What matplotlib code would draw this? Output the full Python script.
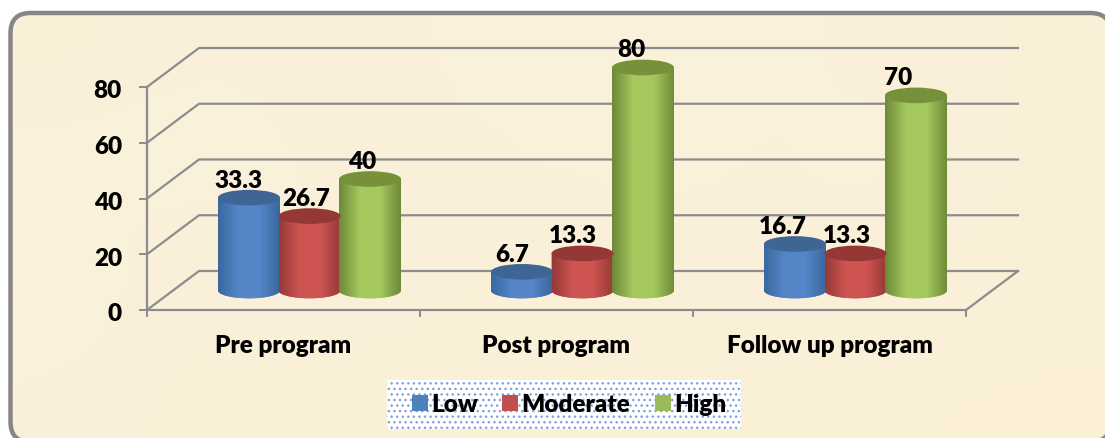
"""
Grouped cylinder chart of low, moderate and high levels per program stage.
"""
import matplotlib
matplotlib.use("Agg")
import matplotlib.pyplot as plt
import numpy as np
from matplotlib.patches import Ellipse, FancyBboxPatch, Patch, Polygon, Rectangle
from matplotlib.transforms import ScaledTranslation

WIDTH, HEIGHT = 1105, 439
DPI = 100

categories = ["Pre program", "Post program", "Follow up program"]
series_names = ["Low", "Moderate", "High"]
low = [33.3, 6.7, 16.7]
moderate = [26.7, 13.3, 13.3]
high = [40, 80, 70]
y_ticks = [0, 20, 40, 60, 80]

# nudge of each value label from its cylinder, in pixels
label_nudge = [[-11, -10, -12], [-3, -10, -9], [-8, -12, -18]]

# body centre, body edge, top face, legend swatch
palette = [
    ("#5586C8", "#3A689F", "#3E6594", "#4F81BD"),
    ("#CE5451", "#963A38", "#943735", "#C0504D"),
    ("#A5C95E", "#6E8A38", "#769139", "#9BBB59"),
]

# soft light and dark patches of the parchment background
parchment = [
    [0.25, 0.45, 0.30, 0.55, 0.40, 0.50, 0.35, 0.30],
    [0.50, 0.55, 0.35, 0.40, 0.60, 0.35, 0.55, 0.20],
    [0.45, 0.35, 0.50, 0.30, 0.35, 0.45, 0.40, 0.25],
    [0.55, 0.30, 0.40, 0.25, 0.30, 0.35, 0.30, 0.20],
    [0.40, 0.20, 0.25, 0.20, 0.15, 0.20, 0.15, 0.10],
]

GREY = "#8C8C8C"
# depth of the oblique floor, in data units
DEPTH_X = 52 / 273
DEPTH_Y = 39 / 2.7875
BAR_WIDTH = 62 / 273
BAR_STEP = 60.5 / 273
CAP_H = 5.6
FONT_SIZE = 17.5

plt.rcParams["font.family"] = ["Lato", "DejaVu Sans"]
plt.rcParams["font.weight"] = "heavy"


def px_axes(fig, left, top, right, bottom):
    return fig.add_axes([left / WIDTH, 1 - bottom / HEIGHT,
                         (right - left) / WIDTH, (bottom - top) / HEIGHT])


def draw_walls(ax):
    for v in y_ticks:
        ax.plot([0, DEPTH_X, 3 + DEPTH_X], [v, v + DEPTH_Y, v + DEPTH_Y],
                color=GREY, lw=1.6, clip_on=False, zorder=1)
    ax.plot([3, 3 + DEPTH_X], [0, DEPTH_Y], color=GREY, lw=1.6,
            clip_on=False, zorder=1)


def draw_cylinder(ax, cx, value, colours):
    centre, edge, top, _ = colours
    left, right = cx - BAR_WIDTH / 2, cx + BAR_WIDTH / 2
    base = DEPTH_Y / 2
    theta = np.linspace(np.pi, 2 * np.pi, 40)
    xs = cx + BAR_WIDTH / 2 * np.cos(theta)
    ys = base + CAP_H / 2 * np.sin(theta)
    outline = list(zip(xs, ys)) + [(right, base + value), (left, base + value)]
    body = Polygon(outline, closed=True, fc=centre, ec="none", zorder=3,
                   clip_on=False)
    ax.add_patch(body)

    cmap = matplotlib.colors.LinearSegmentedColormap.from_list(
        "cyl", [edge, centre, centre, edge])
    shade = ax.imshow(np.linspace(0, 1, 64).reshape(1, -1), cmap=cmap,
                      extent=[left, right, base - CAP_H, base + value],
                      aspect="auto", zorder=3.1)
    shade.set_clip_box(ax.figure.bbox)
    shade.set_clip_path(body)
    ax.add_patch(Ellipse((cx, base + value), BAR_WIDTH, CAP_H, fc=top,
                         ec="none", zorder=3.2, clip_on=False))


fig = plt.figure(figsize=(WIDTH / DPI, HEIGHT / DPI), dpi=DPI, facecolor="white")

back = fig.add_axes([0, 0, 1, 1])
back.axis("off")
back.set_xlim(0, WIDTH)
back.set_ylim(HEIGHT, 0)
# a faint fill, not "none": agg bends unfilled curves that leave the canvas
panel = FancyBboxPatch((10.5, 14), 1100, 429,
                       boxstyle="round,pad=0,rounding_size=20",
                       fc=(0.98, 0.94, 0.85, 0.01), ec="#868686", lw=3.2,
                       zorder=2)
back.add_patch(panel)
paper = back.imshow(parchment, extent=[10, 1110, 443, 14], aspect="auto",
                    interpolation="bicubic", zorder=1.5, vmin=0, vmax=1,
                    cmap=matplotlib.colors.LinearSegmentedColormap.from_list(
                        "paper", ["#FBEFD3", "#FDF6E6"]))
paper.set_clip_path(panel)
back.add_patch(Rectangle((387, 381), 354, 49, fc="white", ec="#7FA3D8",
                         hatch="...", lw=0, zorder=2))

ax = px_axes(fig, 147, 88, 966, 311)
ax.patch.set_alpha(0)
draw_walls(ax)

group_centres = np.arange(len(categories)) + 0.5 + DEPTH_X / 2
offsets = [-BAR_STEP, 0, BAR_STEP]
for s, values in enumerate([low, moderate, high]):
    for g, value in enumerate(values):
        cx = group_centres[g] + offsets[s]
        draw_cylinder(ax, cx, value, palette[s])
        ax.annotate(str(value), (cx, DEPTH_Y / 2 + value),
                    xytext=(label_nudge[s][g] * 0.72, 18 * 0.72),
                    textcoords="offset points", ha="center", va="center",
                    fontsize=FONT_SIZE, color="black", zorder=5,
                    annotation_clip=False)

ax.set_xlim(0, 3)
ax.set_ylim(0, 80)
ax.set_yticks(y_ticks)
ax.set_xticks([0.5, 1.5, 2.5], categories)
ax.set_xticks([0, 1, 2, 3], minor=True)
ax.tick_params(axis="x", which="major", length=0, pad=17, labelsize=FONT_SIZE)
ax.tick_params(axis="x", which="minor", length=5, width=1.4, color=GREY)
ax.tick_params(axis="y", length=6, width=1.4, color=GREY, pad=12,
               labelsize=FONT_SIZE)
# the value labels sit a little lower than their ticks
down = ScaledTranslation(0, -1.5 / DPI, fig.dpi_scale_trans)
for label in ax.get_yticklabels():
    label.set_transform(label.get_transform() + down)
for side in ["top", "right"]:
    ax.spines[side].set_visible(False)
for side in ["left", "bottom"]:
    ax.spines[side].set_color(GREY)
    ax.spines[side].set_linewidth(1.6)

handles = [Patch(fc=c[3], ec="none", label=n) for c, n in zip(palette, series_names)]
fig.legend(handles=handles, loc="center",
           bbox_to_anchor=(569 / WIDTH, 1 - 405.5 / HEIGHT), ncol=3,
           fontsize=FONT_SIZE, frameon=False,
           handlelength=0.65, handleheight=0.65, handletextpad=0.15,
           columnspacing=1.0, borderpad=0, borderaxespad=0)

fig.savefig("out.png", dpi=DPI)
